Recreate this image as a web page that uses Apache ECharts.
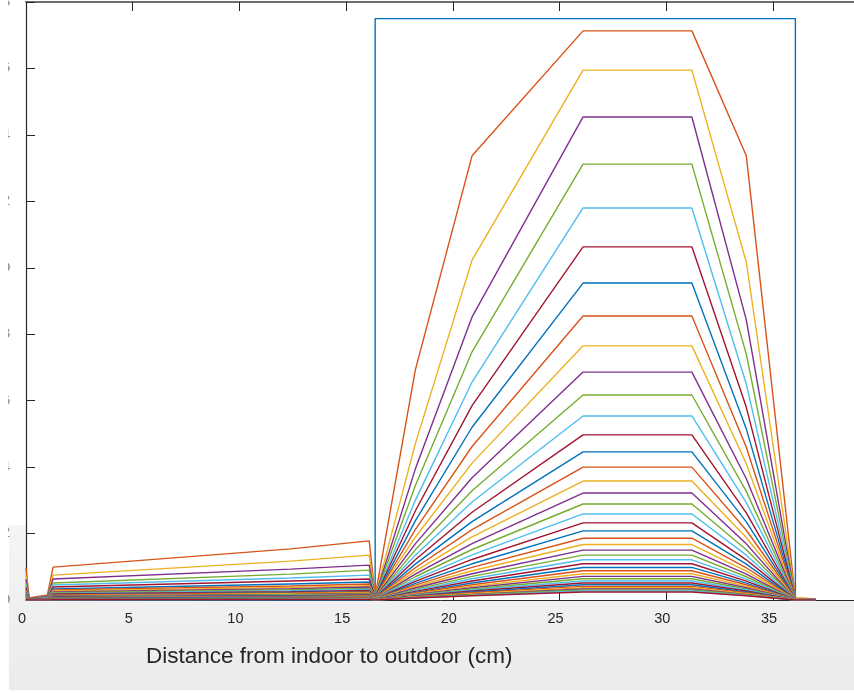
<!DOCTYPE html>
<html>
<head>
<meta charset="utf-8">
<title>Wall temperature profiles</title>
<script src="https://cdn.jsdelivr.net/npm/echarts@6/dist/echarts.min.js"></script>
<style>
  html, body { margin: 0; padding: 0; background: #ffffff; }
  #chart { width: 854px; height: 693px; }
</style>
</head>
<body>
<div id="chart"></div>
<script>
// Positions through the wall section (cm), indoor face at 0
const depthCm = [0, 0.15, 1.0, 1.27, 12.4, 16.08, 16.36, 18.24, 20.9, 26.1, 31.2, 33.75, 36.05, 37.0];

// Initial step profile (heated core)
const initialX = [0, 16.36, 16.36, 36.05, 36.05, 37.0];
const initialY = [0, 0, 17.5, 17.5, 0, 0];

// Later profiles, one row per time step, values at depthCm
const profiles = [
  [0.96, 0.06, 0.15, 0.99, 1.54, 1.78, 0.12, 6.92, 13.37, 17.13, 17.13, 13.37, 0.06, 0.03],
  [0.74, 0.05, 0.13, 0.75, 1.17, 1.35, 0.11, 4.70, 10.23, 15.95, 15.95, 10.17, 0.06, 0.03],
  [0.62, 0.05, 0.12, 0.63, 0.93, 1.05, 0.10, 3.94, 8.52, 14.54, 14.54, 8.43, 0.05, 0.03],
  [0.50, 0.04, 0.11, 0.51, 0.78, 0.90, 0.10, 3.44, 7.47, 13.12, 13.12, 7.40, 0.05, 0.03],
  [0.44, 0.04, 0.10, 0.45, 0.66, 0.75, 0.09, 3.00, 6.56, 11.80, 11.80, 6.50, 0.05, 0.02],
  [0.38, 0.04, 0.09, 0.39, 0.57, 0.63, 0.09, 2.68, 5.85, 10.63, 10.63, 5.80, 0.05, 0.02],
  [0.32, 0.03, 0.08, 0.33, 0.48, 0.54, 0.08, 2.38, 5.20, 9.54, 9.54, 5.15, 0.04, 0.02],
  [0.29, 0.03, 0.08, 0.30, 0.42, 0.48, 0.08, 2.12, 4.62, 8.55, 8.55, 4.60, 0.04, 0.02],
  [0.26, 0.03, 0.07, 0.27, 0.38, 0.43, 0.07, 1.89, 4.12, 7.65, 7.65, 4.10, 0.04, 0.02],
  [0.23, 0.03, 0.07, 0.24, 0.34, 0.39, 0.07, 1.69, 3.68, 6.86, 6.86, 3.65, 0.04, 0.02],
  [0.21, 0.02, 0.06, 0.22, 0.31, 0.35, 0.06, 1.51, 3.29, 6.17, 6.17, 3.27, 0.03, 0.02],
  [0.19, 0.02, 0.06, 0.20, 0.28, 0.32, 0.06, 1.35, 2.95, 5.54, 5.54, 2.93, 0.03, 0.02],
  [0.17, 0.02, 0.05, 0.18, 0.25, 0.29, 0.06, 1.21, 2.64, 4.97, 4.97, 2.62, 0.03, 0.01],
  [0.15, 0.02, 0.05, 0.16, 0.23, 0.26, 0.05, 1.08, 2.36, 4.46, 4.46, 2.35, 0.03, 0.01],
  [0.14, 0.02, 0.05, 0.15, 0.21, 0.24, 0.05, 0.97, 2.12, 4.00, 4.00, 2.10, 0.03, 0.01],
  [0.13, 0.02, 0.04, 0.13, 0.19, 0.22, 0.05, 0.87, 1.90, 3.58, 3.58, 1.88, 0.03, 0.01],
  [0.12, 0.02, 0.04, 0.12, 0.17, 0.20, 0.04, 0.78, 1.70, 3.22, 3.22, 1.69, 0.02, 0.01],
  [0.11, 0.01, 0.04, 0.11, 0.16, 0.18, 0.04, 0.70, 1.52, 2.89, 2.89, 1.51, 0.02, 0.01],
  [0.10, 0.01, 0.03, 0.10, 0.14, 0.16, 0.04, 0.62, 1.36, 2.59, 2.59, 1.35, 0.02, 0.01],
  [0.09, 0.01, 0.03, 0.09, 0.13, 0.15, 0.03, 0.56, 1.22, 2.32, 2.32, 1.21, 0.02, 0.01],
  [0.08, 0.01, 0.03, 0.08, 0.12, 0.13, 0.03, 0.50, 1.09, 2.08, 2.08, 1.08, 0.02, 0.01],
  [0.07, 0.01, 0.03, 0.07, 0.11, 0.12, 0.03, 0.45, 0.98, 1.86, 1.86, 0.97, 0.02, 0.01],
  [0.07, 0.01, 0.02, 0.07, 0.10, 0.11, 0.03, 0.40, 0.88, 1.67, 1.67, 0.87, 0.02, 0.01],
  [0.06, 0.01, 0.02, 0.06, 0.09, 0.10, 0.02, 0.36, 0.79, 1.50, 1.50, 0.78, 0.01, 0.01],
  [0.05, 0.01, 0.02, 0.06, 0.08, 0.09, 0.02, 0.32, 0.71, 1.35, 1.35, 0.70, 0.01, 0.01],
  [0.05, 0.01, 0.02, 0.05, 0.07, 0.08, 0.02, 0.29, 0.64, 1.21, 1.21, 0.63, 0.01, 0.00],
  [0.04, 0.01, 0.02, 0.05, 0.06, 0.07, 0.02, 0.26, 0.57, 1.09, 1.09, 0.57, 0.01, 0.00],
  [0.04, 0.00, 0.01, 0.04, 0.06, 0.07, 0.02, 0.23, 0.51, 0.98, 0.98, 0.51, 0.01, 0.00],
  [0.04, 0.00, 0.01, 0.04, 0.05, 0.06, 0.01, 0.21, 0.46, 0.88, 0.88, 0.46, 0.01, 0.00],
  [0.03, 0.00, 0.01, 0.03, 0.05, 0.05, 0.01, 0.19, 0.41, 0.79, 0.79, 0.41, 0.01, 0.00],
  [0.03, 0.00, 0.01, 0.03, 0.04, 0.05, 0.01, 0.17, 0.37, 0.71, 0.71, 0.37, 0.01, 0.00],
  [0.03, 0.00, 0.01, 0.03, 0.04, 0.04, 0.01, 0.15, 0.33, 0.64, 0.64, 0.33, 0.01, 0.00],
  [0.02, 0.00, 0.01, 0.02, 0.03, 0.04, 0.01, 0.14, 0.30, 0.57, 0.57, 0.30, 0.01, 0.00],
  [0.02, 0.00, 0.01, 0.02, 0.03, 0.03, 0.01, 0.12, 0.27, 0.51, 0.51, 0.27, 0.00, 0.00],
  [0.02, 0.00, 0.01, 0.02, 0.03, 0.03, 0.01, 0.11, 0.24, 0.46, 0.46, 0.24, 0.00, 0.00],
  [0.02, 0.00, 0.00, 0.02, 0.02, 0.03, 0.01, 0.10, 0.22, 0.41, 0.41, 0.22, 0.00, 0.00],
  [0.01, 0.00, 0.00, 0.01, 0.02, 0.02, 0.01, 0.09, 0.19, 0.37, 0.37, 0.19, 0.00, 0.00],
  [0.01, 0.00, 0.00, 0.01, 0.02, 0.02, 0.00, 0.08, 0.17, 0.33, 0.33, 0.17, 0.00, 0.00],
  [0.01, 0.00, 0.00, 0.01, 0.02, 0.02, 0.00, 0.07, 0.16, 0.30, 0.30, 0.16, 0.00, 0.00],
  [0.01, 0.00, 0.00, 0.01, 0.01, 0.02, 0.00, 0.06, 0.14, 0.27, 0.27, 0.14, 0.00, 0.00],
  [0.01, 0.00, 0.00, 0.01, 0.01, 0.01, 0.00, 0.06, 0.13, 0.24, 0.24, 0.13, 0.00, 0.00]
];

const xTicks = [0, 5, 10, 15, 20, 25, 30, 35];
const yTicks = [0, 2, 4, 6, 8, 10, 12, 14, 16, 18];
const xTitle = 'Distance from indoor to outdoor (cm)';

// Default line colour order
const palette = ['#0072BD', '#D95319', '#EDB120', '#7E2F8E', '#77AC30', '#4DBEEE', '#A2142F'];
const axisColor = '#262626';
const fontFamily = '"Liberation Sans", Arial, Helvetica, sans-serif';

const pairs = (xs, ys) => xs.map((x, i) => [x, ys[i]]);

const series = [];
series.push({
  type: 'line',
  data: pairs(initialX, initialY),
  showSymbol: false,
  lineStyle: { color: palette[0], width: 1.4 },
  animation: false
});
profiles.forEach((row, i) => {
  series.push({
    type: 'line',
    data: pairs(depthCm, row),
    showSymbol: false,
    lineStyle: { color: palette[(i + 1) % palette.length], width: 1.4 },
    animation: false
  });
});

const chart = echarts.init(document.getElementById('chart'), null, { renderer: 'canvas' });

chart.setOption({
  animation: false,
  grid: {
    left: 26, top: 2, width: 853.7, height: 598,
    outerBoundsMode: 'none',
    containLabel: false,
    show: true, backgroundColor: '#ffffff', borderWidth: 0
  },
  xAxis: [
    {
      type: 'value', min: 0, max: 40, interval: 5,
      position: 'bottom',
      axisLine: { show: true, onZero: false, lineStyle: { color: axisColor, width: 1 } },
      axisTick: { show: true, inside: true, length: 8, lineStyle: { color: axisColor } },
      axisLabel: {
        show: true, margin: 11, fontSize: 14.5, color: axisColor, fontFamily: fontFamily,
        padding: [0, 8, 0, 0],
        formatter: v => (xTicks.includes(v) ? String(v) : '')
      },
      splitLine: { show: false }
    },
    {
      type: 'value', min: 0, max: 40, interval: 5,
      position: 'top',
      axisLine: { show: true, onZero: false, lineStyle: { color: '#6e6e6e', width: 2 } },
      axisTick: { show: true, inside: true, length: 9, lineStyle: { color: axisColor } },
      axisLabel: { show: false },
      splitLine: { show: false }
    }
  ],
  yAxis: {
    type: 'value', min: 0, max: 18, interval: 2,
    axisLine: { show: true, onZero: false, lineStyle: { color: axisColor, width: 1.2 } },
    axisTick: { show: true, inside: true, length: 9, lineStyle: { color: axisColor } },
    axisLabel: {
      show: true, margin: 16, fontSize: 14, color: axisColor, fontFamily: fontFamily,
      padding: [0, 0, 12, 0],
      formatter: v => (yTicks.includes(v) ? String(v) : '')
    },
    splitLine: { show: false }
  },
  graphic: [
    {
      type: 'rect', z: -10,
      shape: { x: 9, y: 525, width: 845, height: 165 },
      style: {
        fill: new echarts.graphic.LinearGradient(0, 0, 0, 1, [
          { offset: 0, color: '#f5f5f5' },
          { offset: 1, color: '#ebebeb' }
        ])
      }
    },
    {
      type: 'rect', z: 100,
      shape: { x: 0, y: 0, width: 8.5, height: 693 },
      style: { fill: '#ffffff' }
    },
    {
      type: 'text', z: 10, left: 146, top: 645,
      style: { text: xTitle, fill: axisColor, font: '22.5px ' + fontFamily }
    }
  ],
  series: series
});
</script>
</body>
</html>
